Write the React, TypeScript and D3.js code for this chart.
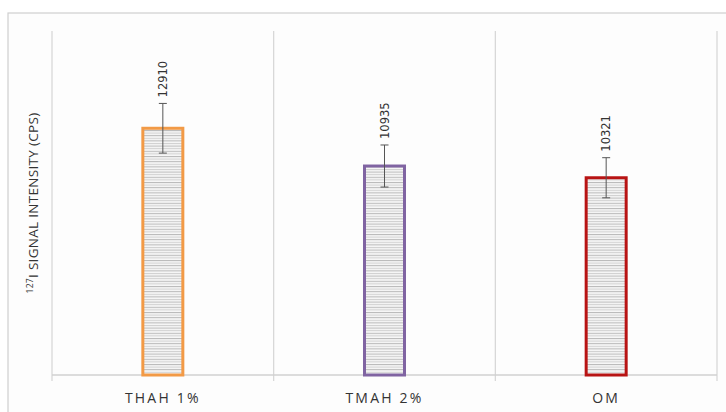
import React from "react";
import * as d3 from "d3";

const categories = ["THAH 1%", "TMAH 2%", "OM"];
const values = [12910, 10935, 10321];
const errors = [1300, 1100, 1050];
const colors = ["#F29A46", "#8064A2", "#B81414"];
const yMax = 18000;

export default function App() {
  const W = 726, H = 412;
  const left = 52, right = 717, top = 31, bottom = 375;
  const x = d3.scaleBand<string>().domain(categories).range([left, right]).paddingInner(0).paddingOuter(0);
  const y = d3.scaleLinear().domain([0, yMax]).range([bottom, top]);
  const barW = 40;
  const bounds = [left, ...categories.map((c) => (x(c) as number) + x.bandwidth())];
  return (
    <svg width={W} height={H} style={{ position: "absolute", left: 0, top: 0, display: "block" }}>
      <defs>
        <pattern id="hstripe" patternUnits="userSpaceOnUse" width="8" height="5.2">
          <rect width="8" height="5.2" fill="#f6f6f6" />
          <rect y="0" width="8" height="1" fill="#b8b8b8" />
          <rect y="2.6" width="8" height="1" fill="#d0d0d0" />
        </pattern>
      </defs>
      <rect x={0} y={0} width={W} height={H} fill="#ffffff" />
      <rect x={8} y={13} width={W + 10} height={H + 10} fill="#fdfdfd" stroke="#cfcfcf" strokeWidth={1.2} />
      {bounds.map((b, i) => (
        <line key={i} x1={b} x2={b} y1={top} y2={bottom + 6} stroke="#d6d6d6" strokeWidth={1.2} />
      ))}
      <line x1={left} x2={right} y1={bottom} y2={bottom} stroke="#d0d0d0" strokeWidth={1.3} />
      {categories.map((c, i) => {
        const cx = (x(c) as number) + x.bandwidth() / 2;
        const yv = y(values[i]);
        const yt = y(values[i] + errors[i]);
        const yb = y(values[i] - errors[i]);
        return (
          <g key={c}>
            <rect x={cx - barW / 2} y={yv} width={barW} height={bottom - yv} fill="url(#hstripe)" stroke={colors[i]} strokeWidth={3} />
            <line x1={cx} x2={cx} y1={yt} y2={yb} stroke="#555" strokeWidth={1} />
            <line x1={cx - 4} x2={cx + 4} y1={yt} y2={yt} stroke="#555" strokeWidth={1} />
            <line x1={cx - 4} x2={cx + 4} y1={yb} y2={yb} stroke="#555" strokeWidth={1} />
            <text transform={`translate(${cx + 4},${yt - 6}) rotate(-90)`} fontFamily="DejaVu Sans" fontSize={11.5} fill="#333" textAnchor="start">
              {values[i]}
            </text>
            <text x={cx} y={403} textAnchor="middle" fontFamily="'Open Sans', 'DejaVu Sans'" fontSize={14} letterSpacing={2.2} fill="#333">
              {c}
            </text>
          </g>
        );
      })}
      <text transform={`translate(38,${(top + bottom) / 2}) rotate(-90)`} textAnchor="middle" fontFamily="'Open Sans', 'DejaVu Sans'" fontSize={13.5} letterSpacing={0.3} fill="#333">
        <tspan fontSize={8.5} dy={-5}>127</tspan>
        <tspan dy={5}>I SIGNAL INTENSITY (CPS)</tspan>
      </text>
    </svg>
  );
}
